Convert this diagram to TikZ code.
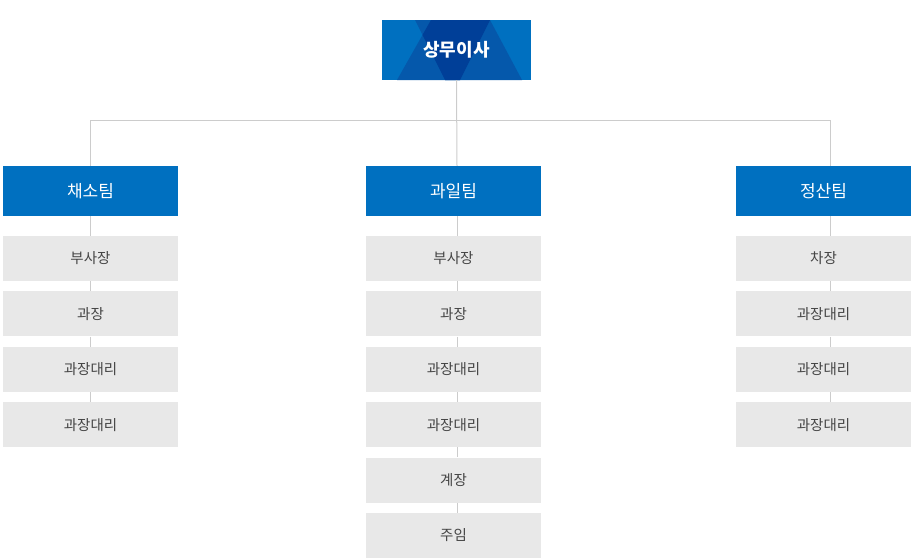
\documentclass[tikz,border=0pt]{standalone}
\usepackage{fontspec}
\setmainfont{Noto Sans CJK KR}
\definecolor{teamblue}{RGB}{0,112,192}
\definecolor{midblue}{RGB}{5,88,171}
\definecolor{darkblue}{RGB}{0,63,152}
\definecolor{boxgray}{RGB}{232,232,232}
\definecolor{linegray}{RGB}{204,204,204}
\definecolor{postgray}{RGB}{68,68,68}
\begin{document}
\begin{tikzpicture}[x=1pt,y=-1pt,
  team/.style={fill=teamblue,text=white,minimum width=175pt,minimum height=50pt,inner sep=0pt,font=\fontsize{17}{19}\selectfont},
  post/.style={fill=boxgray,text=postgray,minimum width=175pt,minimum height=45pt,inner sep=0pt,font=\fontsize{14.5}{16}\selectfont},
  link/.style={draw=linegray,line width=1pt}]
  \useasboundingbox (0,0) rectangle (911,558);
  % top box with triangles
  \fill[teamblue] (382,20) rectangle (531,80);
  \fill[midblue] (415,20)--(490,20)--(460,80)--(445,80)--cycle;
  \fill[midblue] (431,20)--(490,20)--(522,80)--(397,80)--cycle;
  \begin{scope}
    \clip (415,20)--(490,20)--(460,80)--(445,80)--cycle;
    \fill[darkblue] (431,20)--(490,20)--(522,80)--(397,80)--cycle;
  \end{scope}
  \node[text=white,minimum width=149pt,minimum height=60pt,inner sep=0pt,font=\fontsize{18}{20}\selectfont\bfseries] (ceo) at (456.5,50) {상무이사};
  \coordinate (busL) at (90.5,120); \coordinate (busM) at (457,120); \coordinate (busR) at (830,120);
  % teams
  \node[team] (veg) at (90.5,191) {채소팀};
  \node[team] (fruit) at (453.5,191) {과일팀};
  \node[team] (acct) at (823.5,191) {정산팀};
  \draw[link] (ceo.south) |- (busL) -- (veg.north);
  \draw[link] (ceo.south) |- (busR) -- (acct.north -| busR);
  \draw[link] (ceo.south) -- (fruit.north -| busM);
  % posts
  \foreach \name [count=\i] in {부사장,과장,과장대리,과장대리}
    \node[post] (veg\i) at (90.5,{203.1+55.4*\i}) {\name};
  \foreach \name [count=\i] in {부사장,과장,과장대리,과장대리,계장,주임}
    \node[post] (fruit\i) at (453.5,{203.1+55.4*\i}) {\name};
  \foreach \name [count=\i] in {차장,과장대리,과장대리,과장대리}
    \node[post] (acct\i) at (823.5,{203.1+55.4*\i}) {\name};
  \draw[link] (veg.south) -- (veg1.north);
  \draw[link] (fruit.south -| busM) -- (fruit1.north -| busM);
  \draw[link] (acct.south -| busR) -- (acct1.north -| busR);
  \foreach \i/\j in {1/2,2/3,3/4} {
    \draw[link] (veg\i.south) -- (veg\j.north);
    \draw[link] (acct\i.south -| busR) -- (acct\j.north -| busR);
  }
  \foreach \i/\j in {1/2,2/3,3/4,4/5,5/6}
    \draw[link] (fruit\i.south -| busM) -- (fruit\j.north -| busM);
\end{tikzpicture}
\end{document}
